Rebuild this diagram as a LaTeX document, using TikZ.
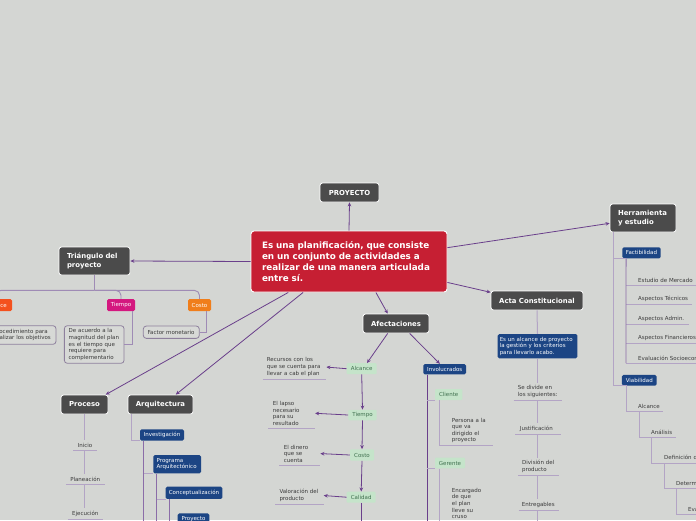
\documentclass[tikz,border=0pt]{standalone}
\usepackage{fontspec}
\setmainfont{DejaVu Sans}
\usetikzlibrary{arrows.meta,calc}
\definecolor{bgc}{HTML}{D4D6D3}
\definecolor{dkc}{HTML}{4B4B4B}
\definecolor{redc}{HTML}{C61F33}
\definecolor{bluc}{HTML}{1C4584}
\definecolor{grnc}{HTML}{C5E4CA}
\definecolor{grnt}{HTML}{40704F}
\definecolor{purc}{HTML}{6A3F8B}
\definecolor{midc}{HTML}{8B6DA8}
\definecolor{lavc}{HTML}{B3A4C5}
\definecolor{tric}{HTML}{9F8BB5}
\definecolor{txtc}{HTML}{3A3A3A}
\definecolor{orgc}{HTML}{F07E1B}
\definecolor{orrc}{HTML}{F4511E}
\definecolor{magc}{HTML}{D4187F}
\definecolor{dbord}{HTML}{8E809D}
\definecolor{dfill}{HTML}{D7D9D6}
\newcommand{\smtxt}{\fontsize{5.5}{6.6}\selectfont}
\newcommand{\hdtxt}{\fontsize{6.9}{9}\selectfont\bfseries}
\hyphenpenalty=10000
\exhyphenpenalty=10000
\begin{document}
\begin{tikzpicture}[x=1pt,y=-1pt,
 dark/.style={fill=dkc,draw=white,line width=0.8pt,rounded corners=2.5pt,text=white,font=\hdtxt,inner sep=0pt},
 redbox/.style={fill=redc,draw=white,line width=0.9pt,rounded corners=3pt,text=white,font=\fontsize{8.8}{11}\selectfont\bfseries,inner sep=0pt,align=left},
 tag/.style={text=white,font=\smtxt,inner sep=0pt,minimum height=12pt,rounded corners=1.5pt},
 blu/.style={fill=bluc,text=white,font=\smtxt,inner sep=0pt,rounded corners=1.5pt},
 grn/.style={fill=grnc,text=grnt,font=\smtxt,inner sep=0pt,rounded corners=1pt},
 dbox/.style={draw=dbord,fill=dfill,line width=0.8pt,rounded corners=3pt,font=\smtxt,text=txtc,inner ysep=0pt,align=left},
 ut/.style={font=\smtxt,text=txtc,inner xsep=0pt,inner ysep=2.5pt,align=left,anchor=south west},
 ct/.style={font=\smtxt,text=txtc,inner xsep=0pt,inner ysep=2.5pt,align=center,anchor=south},
 arr/.style={draw=purc,line width=0.8pt,-{Stealth[length=4pt,width=3.6pt]}},
 pl/.style={draw=purc,line width=0.8pt},
 ml/.style={draw=midc,line width=0.8pt},
 ll/.style={draw=lavc,line width=1pt},
 tl/.style={draw=tric,line width=0.9pt,rounded corners=5pt},
]
\useasboundingbox (0,0) rectangle (696,520);
\fill[bgc] (0,0) rectangle (696,520);
\clip (0,0) rectangle (696,520);

% ---------- main nodes
\node[dark,minimum width=59pt,minimum height=19pt] (proy) at (349.5,192.5) {PROYECTO};
\node[redbox,minimum width=196pt,minimum height=61pt,text width=174pt] (cen) at (349,261.5)
  {Es una planificación, que consiste\\en un conjunto de actividades a\\realizar de una manera articulada\\entre sí.};
\node[dark,minimum width=71pt,minimum height=28pt,text width=55pt,align=left] (tri) at (94.5,261) {Triángulo del\\proyecto};
\node[dark,minimum width=66pt,minimum height=28pt,text width=50pt,align=left] (herr) at (643,218) {Herramienta\\y estudio};
\node[dark,minimum width=92pt,minimum height=19pt] (acta) at (537,300.5) {Acta Constitucional};
\node[dark,minimum width=66pt,minimum height=19pt] (afec) at (396,323.5) {Afectaciones};
\node[dark,minimum width=47pt,minimum height=19pt] (proc) at (84.5,404.5) {Proceso};
\node[dark,minimum width=65pt,minimum height=19pt] (arq) at (160.5,404.5) {Arquitectura};

\draw[arr] (cen.north) -- (proy.south);
\draw[arr] (cen.west) -- (tri.east);
\draw[arr] (cen.8.4) -- (herr.189);
\draw[arr] (cen.-12.4) -- (acta.170);
\draw[arr] (cen.-49.6) -- (afec.130);
\draw[arr] (cen.207.3) -- (proc.25);
\draw[arr] (cen.214.7) -- (arq.33);

% ---------- Triangulo del proyecto
\node[tag,fill=orrc,minimum width=32pt] (alc) at (-4,305) {Alcance};
\node[tag,fill=magc,minimum width=28pt] (tie) at (121,305) {Tiempo};
\node[tag,fill=orgc,minimum width=23pt] (cos) at (199.5,305) {Costo};
\draw[tl] (tri.south) -- ++(0,15) coordinate (tb);
\draw[tl] (tb) -| (alc.north);
\draw[tl] (tb) -| (tie.north);
\draw[tl] (tb) -| (cos.north);
\node[dbox,minimum width=64pt,minimum height=18.6pt,text width=60pt,inner xsep=2pt] (adesc) at (24,335)
  {Procedimiento para\\realizar los objetivos};
\node[dbox,minimum width=59.7pt,minimum height=37.6pt,text width=51pt,inner xsep=4.35pt] (tdesc) at (94.2,344.5)
  {De acuerdo a la\\magnitud del plan\\es el tiempo que\\requiere para\\complementario};
\node[dbox,minimum width=56pt,minimum height=12.3pt,text width=47.5pt,inner xsep=4.25pt] (cdesc) at (171.3,332.2)
  {Factor monetario};
\draw[tl,rounded corners=0pt] ([xshift=-3pt]tie.south east) |- (tdesc.east);
\draw[tl,rounded corners=0pt] ([xshift=-4.5pt]cos.south east) |- (cdesc.east);

% ---------- Herramienta y estudio
\node[blu,minimum width=38.4pt,minimum height=11pt] (fact) at (641.5,252.8) {Factibilidad};
\node[blu,minimum width=34.7pt,minimum height=10.7pt] (viab) at (639.3,380.3) {Viabilidad};
\draw[ll] ([xshift=4pt]herr.south west) |- ([xshift=5pt]viab.south west);
\draw[ll] ([xshift=4pt]herr.south west |- fact.south) -- ([xshift=4pt]fact.south west);
\node[ut,text width=58pt] (f1) at (638,285) {Estudio de Mercado};
\node[ut,text width=54pt] (f2) at (638,304.7) {Aspectos Técnicos};
\node[ut,text width=50.7pt] (f3) at (638,324) {Aspectos Admin.};
\node[ut,text width=62pt] (f4) at (638,343.7) {Aspectos Financieros};
\node[ut,text width=80pt] (f5) at (638,363) {Evaluación Socioeconómica};
\draw[ll] ([xshift=-12pt]f1.south west) -- (f1.south east);
\draw[ll] ([xshift=-12pt]f2.south west) -- (f2.south east);
\draw[ll] ([xshift=-12pt]f3.south west) -- (f3.south east);
\draw[ll] ([xshift=-12pt]f4.south west) -- (f4.south east);
\draw[ll] ([xshift=-12pt]f5.south west) -- (f5.south east);
\draw[ml] ([xshift=4pt]fact.south west) -- ([xshift=-12pt]f5.south west);
\node[ut,text width=25pt] (v1) at (638,411.5) {Alcance};
\node[ut,text width=25pt] (v2) at (651,437) {Análisis};
\node[ut,text width=70pt] (v3) at (664,463) {Definición del proyecto};
\node[ut,text width=60pt] (v4) at (676,488.7) {Determinación};
\node[ut,text width=50pt] (v5) at (688,514.7) {Evaluación};
\draw[ll] ([xshift=5pt]viab.south west) |- (v1.south east);
\draw[ll] ([xshift=1pt]v1.south west) |- (v2.south east);
\draw[ll] (v2.south west) |- (v3.south east);
\draw[ll] (v3.south west) |- (v4.south east);
\draw[ll] (v4.south west) |- (v5.south east);

% ---------- Acta Constitucional
\node[blu,minimum width=79.6pt,minimum height=24.3pt,text width=75.5pt,inner xsep=2pt,align=left] (ab) at (537.5,346.2)
  {Es un alcance de proyecto\\la gestión y los criterios\\para llevarlo acabo.};
\node[ut,text width=44pt] (a1) at (517.7,400) {Se divide en\\los siguientes:};
\node[ut,text width=41pt] (a2) at (519.7,434.3) {Justificación};
\node[ut,text width=36.7pt] (a3) at (522,475.3) {División del\\producto};
\node[ut,text width=37pt] (a4) at (521.7,510) {Entregables};
\draw[ll] (acta.south) -- (ab.north);
\draw[ll] (ab.south) -- (ab.south |- a1.north);
\draw[ll] (ab.south |- a1.south) -- (ab.south |- a2.north);
\draw[ll] (ab.south |- a2.south) -- (ab.south |- a3.north);
\draw[ll] (ab.south |- a3.south) -- (ab.south |- a4.north);
\draw[ll] (ab.south |- a4.south) -- ++(0,20);
\draw[ll] ([xshift=-4pt]a1.south west) -- (a1.south east);
\draw[ll] ([xshift=-4.7pt]a2.south west) -- (a2.south east);
\draw[ll] ([xshift=-3.7pt]a3.south west) -- (a3.south east);
\draw[ll] ([xshift=-3pt]a4.south west) -- (a4.south east);

% ---------- Afectaciones
\node[grn,minimum width=30pt,minimum height=11pt] (alc2) at (361.7,368.7) {Alcance};
\node[grn,minimum width=28.4pt,minimum height=10.5pt] (tie2) at (362.5,415) {Tiempo};
\node[grn,minimum width=24pt,minimum height=11.4pt] (cos2) at (362,455) {Costo};
\node[grn,minimum width=29pt,minimum height=11pt] (cal2) at (361.2,497.2) {Calidad};
\node[blu,minimum width=42.7pt,minimum height=10.3pt] (inv) at (444.7,369.2) {Involucrados};
\draw[arr] (afec.230) -- (alc2.47);
\draw[arr] (afec.-36) -- (inv.132);
\draw[arr] (alc2.south) -- (tie2.north);
\draw[arr] (tie2.south) -- (cos2.north);
\draw[arr] (cos2.south) -- (cal2.north);
\draw[pl] (cal2.south) -- ++(0,30);
\node[ut,text width=59.3pt] (d1) at (266.7,379) {Recursos con los\\que se cuenta para\\llevar a cab el plan};
\node[ut,text width=42pt] (d2) at (272.7,428) {El lapso\\necesario\\para su\\resultado};
\node[ut,text width=36.3pt] (d3) at (283.7,465) {El dinero\\que se\\cuenta};
\node[ut,text width=44pt] (d4) at (279.3,504.3) {Valoración del\\producto};
\draw[ll] ([xshift=-4pt]d1.south west) -- (d1.south east);
\draw[ll] ([xshift=-4.4pt]d2.south west) -- (d2.south east);
\draw[ll] ([xshift=-4.7pt]d3.south west) -- (d3.south east);
\draw[ll] ([xshift=-4pt]d4.south west) -- (d4.south east);
\draw[arr] (alc2.west) -- (d1.east);
\draw[arr] (tie2.west) -- (d2.east);
\draw[arr] (cos2.west) -- (d3.east);
\draw[arr] (cal2.west) -- (d4.east);

% ---------- Involucrados
\node[grn,minimum width=27.3pt,minimum height=11pt] (cli) at (448.7,394.5) {Cliente};
\node[grn,minimum width=30pt,minimum height=10.6pt] (ger) at (450,463) {Gerente};
\draw[pl] ([xshift=4.3pt]inv.south west) -- ++(0,160);
\draw[ll] ([xshift=4.3pt]inv.south west |- cli.south) -- (cli.south west);
\draw[ll] ([xshift=4.3pt]inv.south west |- ger.south) -- (ger.south west);
\node[ut,text width=41pt] (cd) at (451.7,445.7) {Persona a la\\que va\\dirigido el\\proyecto};
\node[ut,text width=41pt] (gd) at (451.7,521.5) {Encargado\\de que\\el plan\\lleve su\\cruso};
\draw[ll] ([xshift=4.3pt]cli.south west) |- (cd.south east);
\draw[ll] ([xshift=4.3pt]ger.south west) |- (gd.south east);

% ---------- Proceso
\node[ct,minimum width=23.4pt] (p1) at (85,450) {Inicio};
\node[ct,minimum width=38.3pt] (p2) at (85.2,484.3) {Planeación};
\node[ct,minimum width=34.7pt] (p3) at (85.3,519) {Ejecución};
\draw[ll] (proc.south) -- (proc.south |- p1.north);
\draw[ll] (proc.south |- p1.south) -- (proc.south |- p2.north);
\draw[ll] (proc.south |- p2.south) -- (proc.south |- p3.north);
\draw[ll] (p1.south west) -- (p1.south east);
\draw[ll] (p2.south west) -- (p2.south east);
\draw[ll] (p3.south west) -- (p3.south east);

% ---------- Arquitectura
\node[blu,minimum width=44pt,minimum height=11.4pt] (inv2) at (162,435) {Investigación};
\node[blu,minimum width=47.7pt,minimum height=18.3pt,text width=41pt,inner xsep=3.35pt,align=left] (prog) at (177.2,464.2) {Programa\\Arquitectónico};
\node[blu,minimum width=56.6pt,minimum height=12.3pt] (concept) at (194,492.8) {Conceptualización};
\node[blu,minimum width=31.6pt,minimum height=11.4pt] (proy2) at (193.5,519) {Proyecto};
\draw[ll] ([xshift=4pt]arq.south west) |- (inv2.south west);
\draw[ml] ([xshift=4pt]inv2.south west) -- ++(0,100);
\draw[ll] ([xshift=4pt]inv2.south west |- prog.south) -- (prog.south west);
\draw[ml] ([xshift=3.5pt]prog.south west) -- ++(0,100);
\draw[ll] ([xshift=3.5pt]prog.south west |- concept.south) -- (concept.south west);
\draw[ml] ([xshift=4.3pt]concept.south west) -- ++(0,100);
\draw[ll] ([xshift=4.3pt]concept.south west |- proy2.south) -- (proy2.south west);
\end{tikzpicture}
\end{document}
